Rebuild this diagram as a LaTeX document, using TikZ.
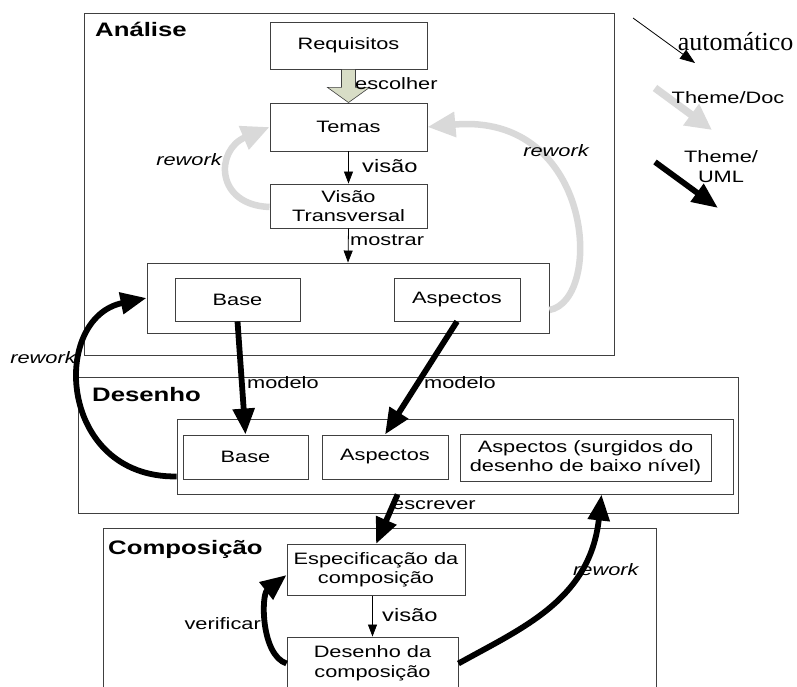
\documentclass[tikz,border=0pt]{standalone}
\usepackage{fontspec}
\setmainfont{Liberation Sans}[FakeStretch=1.32]
\newfontfamily\legendserif{Liberation Serif}
\usetikzlibrary{arrows.meta,calc}

\definecolor{edgegrey}{RGB}{64,64,64}
\definecolor{reworkgrey}{RGB}{217,217,217}
\definecolor{blockfill}{RGB}{216,221,198}

\newcommand{\boxfont}{\fontsize{16.5}{19.5}\selectfont}
\newcommand{\bigfont}{\fontsize{18}{21}\selectfont}
\newcommand{\titlefont}{\fontsize{19.5}{22}\selectfont\bfseries}

\tikzset{
  box/.style={draw=edgegrey, line width=0.9pt, fill=white, inner sep=0pt,
    align=center, font=\boxfont},
  frame/.style={draw=edgegrey, line width=0.9pt, inner sep=0pt},
  title/.style={font=\titlefont, anchor=base west, inner sep=0pt},
  lbl/.style={font=\boxfont, inner sep=0pt},
  ilbl/.style={font=\boxfont\itshape, inner sep=0pt},
  thinarrow/.style={draw=black, line width=0.8pt,
    -{Triangle[length=12pt,width=9pt]}},
  heavyarrow/.style={draw=black, line width=5.8pt,
    -{Triangle[length=26pt,width=21pt]}},
  greyarrow/.style={draw=reworkgrey, line width=6.5pt,
    -{Triangle[length=28pt,width=24pt]}},
  blockarrow/.style={draw=edgegrey, line width=0.6pt, fill=blockfill},
}

\begin{document}
\begin{tikzpicture}[x=1pt,y=-1pt]
\useasboundingbox[fill=white] (0,0) rectangle (797,687);

% ---------- Análise ----------
\node[frame, minimum width=530, minimum height=342] (anaFrame) at (349,184) {};
\node[title] (anaTitle) at (95,37) {Análise};
\node[box, minimum width=157, minimum height=47] (req) at (348.5,45.5) {Requisitos};
\node[box, minimum width=157, minimum height=48] (temas) at (348.5,127) {Temas};
\node[box, minimum width=157, minimum height=44] (visao) at (348.5,206) {Visão\\Transversal};
\node[box, minimum width=402, minimum height=70] (innerA) at (348,298) {};
\node[box, minimum width=125, minimum height=43] (baseA) at (237.5,299.5) {Base};
\node[box, minimum width=126, minimum height=43] (aspA) at (457,299.5) {Aspectos};

% ---------- Desenho ----------
\node[frame, minimum width=660, minimum height=136] (desFrame) at (408,445) {};
\node[title] (desTitle) at (92,401) {Desenho};
\node[box, minimum width=556, minimum height=75] (innerD) at (455,456.5) {};
\node[box, minimum width=125, minimum height=44] (baseD) at (245.5,457) {Base};
\node[box, minimum width=126, minimum height=44] (aspD) at (385,457) {Aspectos};
\node[box, minimum width=251, minimum height=47] (surg) at (585.5,457.5)
  {Aspectos (surgidos do\\desenho de baixo nível)};

% ---------- Composição ----------
\node[frame, minimum width=553, minimum height=182] (compFrame) at (379.5,619) {};
\node[title] (compTitle) at (108,554) {Composição};
\node[box, minimum width=178, minimum height=51] (esp) at (376,570) {Especificação da\\composição};
\node[box, minimum width=171, minimum height=53] (dcomp) at (372.5,663.5) {Desenho da\\composição};

% ---------- flow inside Análise ----------
\draw[blockarrow] ($(req.south)+(-7,0)$) -- ($(req.south)+(7,0)$)
  -- ($(req.south)+(7,18)$) -- ($(req.south)+(21,18)$) -- (temas.north)
  -- ($(req.south)+(-21,18)$) -- ($(req.south)+(-7,18)$) -- cycle;
\node[lbl, anchor=west] (lblEscolher) at (355,84) {escolher};

\draw[thinarrow] (temas.south) -- (visao.north);
\node[lbl, font=\bigfont, anchor=west] (lblVisaoA) at (362,166) {visão};

\draw[thinarrow] (visao.south) -- (innerA.north);
\node[lbl, anchor=west] (lblMostrar) at (350,240) {mostrar};

\draw[greyarrow] ($(visao.west)+(0,1)$) .. controls (215,205) and (215,150) .. (temas.west);
\node[ilbl] (lblReworkA) at (189,160) {rework};

\draw[greyarrow] ($(innerA.east)+(0,12)$) .. controls (604,300) and (594,112) .. (temas.east);
\node[ilbl] (lblReworkB) at (556,151) {rework};

% ---------- Análise -> Desenho ----------
\draw[heavyarrow] (baseA.south) -- (baseD.north);
\node[lbl, anchor=west] (lblModeloA) at (247,383) {modelo};
\draw[heavyarrow] (aspA.south) -- (aspD.north);
\node[lbl, anchor=west] (lblModeloB) at (424,383) {modelo};

\draw[heavyarrow] ($(innerD.south west)+(0,-18)$) .. controls (58,478) and (50,318) .. (innerA.west);
\node[ilbl] (lblReworkC) at (43,358) {rework};

% ---------- Desenho -> Composição ----------
\draw[heavyarrow] ($(innerD.south west)+(221,0)$) -- (esp.north);
\node[lbl, anchor=west] (lblEscrever) at (392,505) {escrever};

\draw[thinarrow] (esp.south -| dcomp.north) -- (dcomp.north);
\node[lbl, font=\bigfont, anchor=west] (lblVisaoC) at (382,615) {visão};

\draw[heavyarrow] (dcomp.west) .. controls (261,655) and (261,595) .. ($(esp.west)+(0,5)$);
\node[lbl, anchor=east] (lblVerificar) at (261,624) {verificar};

\draw[heavyarrow] (dcomp.east) .. controls (522,628) and (590,600) .. ($(innerD.south west)+(425,0)$);
\node[ilbl, anchor=west] (lblReworkD) at (573,570) {rework};

% ---------- legend ----------
\coordinate (autoFrom) at (633,18);
\coordinate (autoTo) at (695,63);
\draw[thinarrow, -{Triangle[length=15pt,width=11pt]}] (autoFrom) -- (autoTo);
\node[inner sep=0pt, font=\legendserif\fontsize{26}{28}\selectfont] (lblAuto) at (735.5,42) {automático};

\coordinate (docFrom) at (655,88);
\coordinate (docTo) at (712,130);
\draw[greyarrow, line width=7.5pt, -{Triangle[length=26pt,width=25pt]}] (docFrom) -- (docTo);
\node[lbl] (lblDoc) at (728,98) {Theme/Doc};

\coordinate (umlFrom) at (655,162);
\coordinate (umlTo) at (718,208);
\draw[heavyarrow] (umlFrom) -- (umlTo);
\node[lbl, align=center, font=\fontsize{16.5}{20}\selectfont] (lblUml) at (721,167) {Theme/\\UML};
\end{tikzpicture}
\end{document}
